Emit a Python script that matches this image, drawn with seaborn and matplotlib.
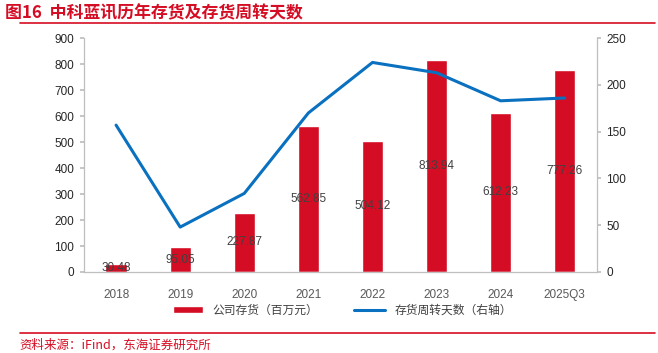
import seaborn as sns
import matplotlib.pyplot as plt
import pandas as pd

sns.set_theme(style='white')
plt.rcParams['font.family'] = ['Noto Sans CJK SC', 'DejaVu Sans']

years = ['2018', '2019', '2020', '2021', '2022', '2023', '2024', '2025Q3']
inventory = [30.48, 95.05, 227.87, 562.85, 504.12, 813.94, 612.23, 777.26]
turnover_days = [157, 48, 84, 170, 224, 213, 183, 186]

df = pd.DataFrame({'year': years, 'inv': inventory, 'days': turnover_days})

red = '#D50D24'
blue = '#0A70C0'

fig = plt.figure(figsize=(6.58, 3.53), dpi=100)
ax = fig.add_axes([0.1277, 0.2295, 0.7793, 0.6625])

sns.barplot(data=df, x='year', y='inv', color=red, width=0.33, saturation=1,
            ax=ax, label='公司存货（百万元）')
ax.set_ylim(0, 900)
ax.set_yticks(range(0, 901, 100))
ax.set_xlim(-0.5, len(years) - 0.5)
ax.set_xlabel('')
ax.set_ylabel('')

# data labels at bar middle
for i, v in enumerate(inventory):
    ax.text(i, v / 2, f'{v:.2f}', ha='center', va='center', fontsize=8.5,
            color='#404040', family=['Liberation Sans', 'DejaVu Sans'])

ax2 = ax.twinx()
sns.lineplot(x=list(range(len(years))), y=turnover_days, color=blue, lw=2.2,
             ax=ax2, label='存货周转天数（右轴）', legend=False)
ax2.set_ylim(0, 250)
ax2.set_yticks(range(0, 251, 50))

for a in (ax, ax2):
    for s in a.spines.values():
        s.set_visible(False)
ax.spines['left'].set_visible(True)
ax.spines['bottom'].set_visible(True)
ax2.spines['right'].set_visible(True)
for s in (ax.spines['left'], ax.spines['bottom'], ax2.spines['right']):
    s.set_color('#BFBFBF')
    s.set_linewidth(0.9)

ax.tick_params(axis='y', left=True, length=3, color='#BFBFBF', labelsize=8.5,
               labelcolor='#262626', pad=4)
ax.tick_params(axis='x', bottom=False, labelsize=8.5, labelcolor='#595959', pad=6)
ax2.tick_params(axis='y', right=True, length=3, color='#BFBFBF', labelsize=8.5,
                labelcolor='#262626', pad=4)
for lab in ax.get_xticklabels() + ax.get_yticklabels() + ax2.get_yticklabels():
    lab.set_fontfamily(['Liberation Sans', 'DejaVu Sans'])

h1, l1 = ax.get_legend_handles_labels()
h2, l2 = ax2.get_legend_handles_labels()
if ax.get_legend() is not None:
    ax.get_legend().remove()
if ax2.get_legend() is not None:
    ax2.get_legend().remove()
fig.legend(h1 + h2, l1 + l2, loc='center', bbox_to_anchor=(0.52, 0.122), ncol=2,
           frameon=False, fontsize=8.5, handlelength=2.6, handleheight=0.5,
           columnspacing=3, labelcolor='#404040')

fig.text(0.008, 0.962, '图16  中科蓝讯历年存货及存货周转天数', color=red,
         fontsize=12.2, fontweight='bold', va='center', ha='left')
fig.add_artist(plt.Line2D([0.03, 0.995], [0.935, 0.935], color=red, lw=1.2))
fig.add_artist(plt.Line2D([0.03, 0.995], [0.057, 0.057], color=red, lw=1.2))
fig.text(0.03, 0.022, '资料来源：iFind，东海证券研究所', color=red, fontsize=9,
         va='center', ha='left')

fig.savefig('out.png', dpi=100)
